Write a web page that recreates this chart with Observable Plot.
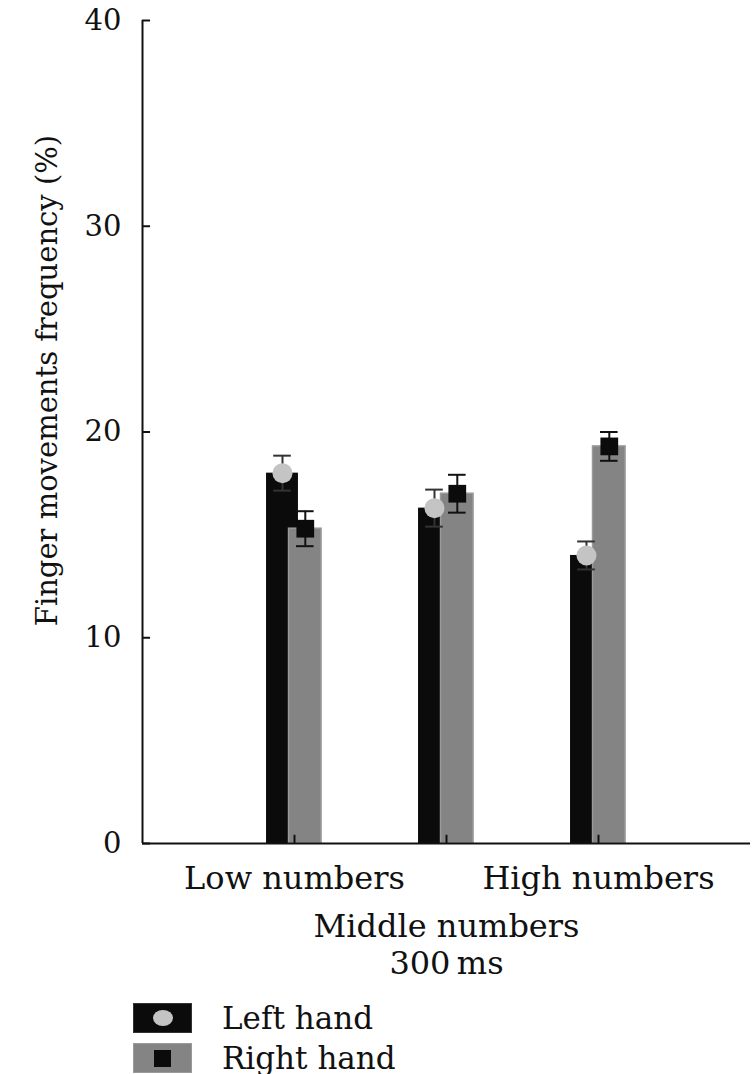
<!DOCTYPE html>
<html>
<head>
<meta charset="utf-8">
<script src="https://cdn.jsdelivr.net/npm/d3@7"></script>
<script src="https://cdn.jsdelivr.net/npm/@observablehq/plot@0.6"></script>
<style>
  html, body { margin: 0; padding: 0; background: #fff; }
  #chart svg { display: block; }
  .legend { font-family: "DejaVu Serif", serif; font-size: 31px; color: #111; margin-top: 13px; }
  .row { display: flex; align-items: center; height: 30px; margin-bottom: 10px; }
  .sw { position: relative; width: 59px; height: 30px; margin-left: 133px; box-sizing: border-box; }
  .lab { margin-left: 30px; line-height: 30px; }
</style>
</head>
<body>
<div id="chart"></div>
<div class="legend" id="legend"></div>
<script>
const categories = ["Low numbers", "Middle numbers", "High numbers"];
const leftHand = [18.0, 16.3, 14.0];
const rightHand = [15.3, 17.0, 19.3];
const leftErr = [0.85, 0.9, 0.68];
const rightErr = [0.85, 0.92, 0.7];
const yTicks = [0, 10, 20, 30, 40];
const seriesNames = ["Left hand", "Right hand"];

// group positions 1..3 on a 0..4 linear scale
const rows = categories.map((c, i) => ({cat: c, pos: i + 1, left: leftHand[i], right: rightHand[i], le: leftErr[i], re: rightErr[i]}));

// layout offsets (fractions of the group step)
const L1 = -0.184, L2 = 0.026, R1 = -0.036, R2 = 0.178;
const Lc = (L1 + L2) / 2, Rc = (R1 + R2) / 2, cap = 0.058;

const black = "#0b0b0b", gray = "#848484";

const chart = Plot.plot({
  width: 753,
  height: 990,
  marginLeft: 142,
  marginRight: 3,
  marginTop: 20,
  marginBottom: 147,
  style: {fontFamily: "DejaVu Serif, serif", fontSize: "29px", color: "#111", background: "#fff"},
  x: {domain: [0, 4], axis: null},
  y: {domain: [0, 40], axis: null},
  marks: [
    // bars
    Plot.rect(rows, {x1: d => d.pos + L1, x2: d => d.pos + L2, y1: 0, y2: "left", fill: black}),
    Plot.rect(rows, {x1: d => d.pos + R1, x2: d => d.pos + R2, y1: 0, y2: "right", fill: gray, stroke: "#9a9a9a", strokeWidth: 1.5}),
    // error bars
    Plot.ruleX(rows, {x: d => d.pos + Lc, y1: d => d.left - d.le, y2: d => d.left + d.le, stroke: "#333", strokeWidth: 2}),
    Plot.ruleY(rows, {y: d => d.left - d.le, x1: d => d.pos + Lc - cap, x2: d => d.pos + Lc + cap, stroke: "#333", strokeWidth: 2}),
    Plot.ruleY(rows, {y: d => d.left + d.le, x1: d => d.pos + Lc - cap, x2: d => d.pos + Lc + cap, stroke: "#333", strokeWidth: 2}),
    Plot.ruleX(rows, {x: d => d.pos + Rc, y1: d => d.right - d.re, y2: d => d.right + d.re, stroke: "#111", strokeWidth: 2}),
    Plot.ruleY(rows, {y: d => d.right - d.re, x1: d => d.pos + Rc - cap, x2: d => d.pos + Rc + cap, stroke: "#111", strokeWidth: 2}),
    Plot.ruleY(rows, {y: d => d.right + d.re, x1: d => d.pos + Rc - cap, x2: d => d.pos + Rc + cap, stroke: "#111", strokeWidth: 2}),
    // markers
    Plot.dot(rows, {x: d => d.pos + Lc, y: "left", r: 10, fill: "#c4c4c4", stroke: "none"}),
    Plot.dot(rows, {x: d => d.pos + Rc, y: "right", symbol: "square", r: 10, fill: black, stroke: "none"}),
    // axes lines
    Plot.ruleX([0], {y1: 0, y2: 40, stroke: "#111", strokeWidth: 2}),
    Plot.ruleY([0], {x1: 0, x2: 4, stroke: "#111", strokeWidth: 2}),
    // y ticks (inward)
    Plot.ruleY(yTicks, {x1: 0, x2: 0.053, stroke: "#111", strokeWidth: 2}),
    Plot.text(yTicks, {x: 0, y: d => d, text: d => String(d), textAnchor: "end", dx: -21, fontSize: 29}),
    // x ticks (inward)
    Plot.ruleX(rows, {x: "pos", y1: 0, y2: 0.4, stroke: "#111", strokeWidth: 2}),
    // x labels (staggered)
    Plot.text(rows.filter((d, i) => i !== 1), {x: "pos", y: 0, text: "cat", dy: 35, fontSize: 32}),
    Plot.text(rows.filter((d, i) => i === 1), {x: "pos", y: 0, text: "cat", dy: 83, fontSize: 32}),
    Plot.text(["300\u2009ms"], {x: 2, y: 0, text: d => d, dy: 120, fontSize: 32}),
    // y label
    Plot.text(["Finger movements frequency (%)"], {x: 0, y: 22.5, text: d => d, rotate: -90, dx: -95, fontSize: 29})
  ]
});
document.getElementById("chart").appendChild(chart);

// legend
const lg = document.getElementById("legend");
seriesNames.forEach((name, i) => {
  const row = document.createElement("div");
  row.className = "row";
  const sw = document.createElement("div");
  sw.className = "sw";
  sw.style.background = i === 0 ? black : gray;
  sw.style.border = i === 0 ? "1px solid #333" : "1px solid #9a9a9a";
  const m = document.createElement("div");
  m.style.position = "absolute";
  if (i === 0) {
    m.style.cssText += "left:19px;top:6px;width:20px;height:16px;border-radius:50%;background:#c4c4c4;";
  } else {
    m.style.cssText += "left:20px;top:6px;width:17px;height:17px;background:" + black + ";";
  }
  sw.appendChild(m);
  const lab = document.createElement("div");
  lab.className = "lab";
  lab.textContent = name;
  row.appendChild(sw);
  row.appendChild(lab);
  lg.appendChild(row);
});
</script>
</body>
</html>
